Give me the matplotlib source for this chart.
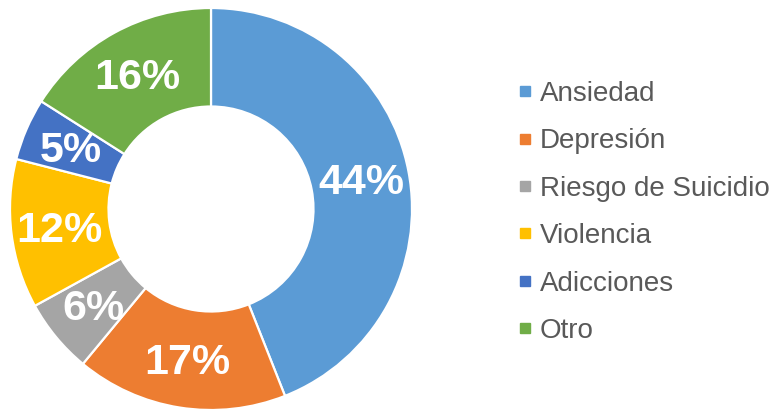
import matplotlib
matplotlib.use("Agg")
import matplotlib.pyplot as plt
from matplotlib.lines import Line2D
from matplotlib.transforms import offset_copy

categories = ["Ansiedad", "Depresión", "Riesgo de Suicidio", "Violencia", "Adicciones", "Otro"]
values = [44, 17, 6, 12, 5, 16]
colors = ["#5B9BD5", "#ED7D31", "#A5A5A5", "#FFC000", "#4472C4", "#70AD47"]

plt.rcParams['font.family'] = ['Liberation Sans', 'DejaVu Sans']

fig = plt.figure(figsize=(7.82, 4.11), dpi=100)
ax = fig.add_axes([10/782, 1/411, 402/782, 402/411])

wedges, texts, autotexts = ax.pie(
    values, colors=colors, startangle=90, counterclock=False, radius=1,
    autopct=lambda p: f"{p:.0f}%", pctdistance=0.76,
    wedgeprops=dict(width=0.49, edgecolor="white", linewidth=1.6),
    textprops=dict(color="white", fontsize=31, fontweight="bold"),
)
for t in autotexts:
    t.set_transform(offset_copy(ax.transData, fig=fig, x=0, y=-3, units="dots"))
ax.set_xlim(-1, 1)
ax.set_ylim(-1, 1)
ax.set_aspect("equal")

handles = [Line2D([0], [0], marker="s", linestyle="none", markersize=7,
                  markerfacecolor=c, markeredgecolor=c) for c in colors]
leg = fig.legend(handles, categories, loc="center left",
                 bbox_to_anchor=(519/782, 0.483), frameon=False,
                 fontsize=20, labelspacing=0.77, handlelength=0.45,
                 handletextpad=0.3, borderpad=0, borderaxespad=0)
for t in leg.get_texts():
    t.set_color("#595959")

fig.savefig("out.png", dpi=100)
